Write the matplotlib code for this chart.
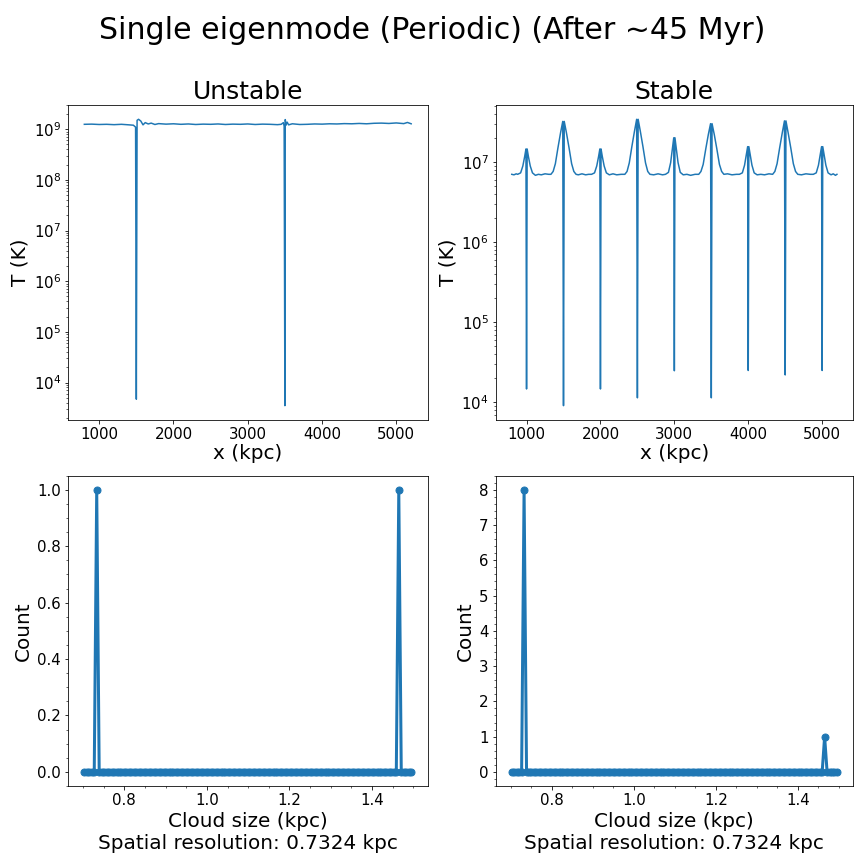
import matplotlib
matplotlib.use('Agg')
import matplotlib.pyplot as plt
import numpy as np

# Temperature profiles (x in kpc, T in K)
x_unstable = [800, 900, 1000, 1100, 1200, 1300, 1400, 1460, 1490, 1500,
              1510, 1530, 1560, 1590, 1620, 1660, 1700, 1750, 1800, 1900,
              2000, 2100, 2200, 2300, 2400, 2500, 2600, 2700, 2800, 2900,
              3000, 3100, 3200, 3300, 3400, 3450, 3480, 3490, 3500, 3505,
              3515, 3530, 3550, 3600, 3700, 3800, 3900, 4000, 4100, 4200,
              4300, 4400, 4500, 4600, 4700, 4800, 4900, 5000, 5100, 5150, 5200]
T_unstable = [1.25e9, 1.26e9, 1.24e9, 1.25e9, 1.23e9, 1.25e9, 1.22e9, 1.20e9, 1.10e9, 4.7e3,
              1.50e9, 1.57e9, 1.45e9, 1.22e9, 1.35e9, 1.27e9, 1.32e9, 1.24e9, 1.29e9, 1.26e9,
              1.28e9, 1.25e9, 1.27e9, 1.24e9, 1.26e9, 1.25e9, 1.27e9, 1.24e9, 1.26e9, 1.25e9,
              1.27e9, 1.24e9, 1.26e9, 1.25e9, 1.23e9, 1.25e9, 1.35e9, 1.15e9, 3.5e3, 1.55e9,
              1.20e9, 1.38e9, 1.22e9, 1.28e9, 1.24e9, 1.25e9, 1.27e9, 1.26e9, 1.28e9, 1.27e9,
              1.29e9, 1.28e9, 1.30e9, 1.28e9, 1.31e9, 1.32e9, 1.30e9, 1.33e9, 1.29e9, 1.36e9, 1.28e9]

x_stable = [800, 830, 860,
            880, 920, 950, 975, 992, 1000, 1008, 1025, 1050, 1080, 1120,
            1160, 1200, 1250, 1300,
            1330, 1360, 1390, 1425, 1460, 1490, 1500, 1510, 1540, 1575, 1610, 1640, 1670,
            1700, 1750, 1800, 1840,
            1880, 1920, 1950, 1975, 1992, 2000, 2008, 2025, 2050, 2080, 2120,
            2170, 2220, 2280,
            2330, 2360, 2390, 2425, 2460, 2490, 2500, 2510, 2540, 2575, 2610, 2640, 2670,
            2720, 2780, 2840,
            2880, 2920, 2950, 2975, 2992, 3000, 3008, 3025, 3050, 3080, 3120,
            3170, 3220, 3280,
            3330, 3360, 3390, 3425, 3460, 3490, 3500, 3510, 3540, 3575, 3610, 3640, 3670,
            3720, 3780, 3840,
            3880, 3920, 3950, 3975, 3992, 4000, 4008, 4025, 4050, 4080, 4120,
            4170, 4220, 4280,
            4330, 4360, 4390, 4425, 4460, 4490, 4500, 4510, 4540, 4575, 4610, 4640, 4670,
            4720, 4780, 4840,
            4880, 4920, 4950, 4975, 4992, 5000, 5008, 5025, 5050, 5080, 5120,
            5150, 5180, 5200]
T_stable = [7.0e6, 6.9e6, 7.1e6,
            7.0e6, 7.3e6, 8.9e6, 1.17e7, 1.45e7, 1.47e4, 1.45e7, 1.17e7, 8.9e6, 7.3e6, 6.8e6,
            7.0e6, 6.9e6, 7.1e6, 7.0e6,
            7.0e6, 7.6e6, 9.5e6, 1.5e7, 2.3e7, 3.2e7, 9.1e3, 3.2e7, 2.3e7, 1.5e7, 9.5e6, 7.6e6, 7.0e6,
            6.9e6, 7.1e6, 6.9e6, 7.0e6,
            7.0e6, 7.3e6, 8.9e6, 1.17e7, 1.45e7, 1.47e4, 1.45e7, 1.17e7, 8.9e6, 7.3e6, 6.9e6,
            7.1e6, 6.9e6, 7.0e6,
            7.0e6, 7.6e6, 9.7e6, 1.55e7, 2.4e7, 3.4e7, 1.14e4, 3.4e7, 2.4e7, 1.55e7, 9.7e6, 7.6e6, 7.0e6,
            6.9e6, 7.1e6, 6.9e6,
            7.0e6, 7.4e6, 9.8e6, 1.5e7, 2.0e7, 2.48e4, 2.0e7, 1.5e7, 9.8e6, 7.4e6, 6.9e6,
            7.0e6, 6.8e6, 7.0e6,
            7.0e6, 7.6e6, 9.3e6, 1.45e7, 2.2e7, 3.0e7, 1.14e4, 3.0e7, 2.2e7, 1.45e7, 9.3e6, 7.6e6, 7.0e6,
            7.1e6, 6.9e6, 7.0e6,
            7.0e6, 7.3e6, 9.1e6, 1.25e7, 1.55e7, 2.5e4, 1.55e7, 1.25e7, 9.1e6, 7.3e6, 6.9e6,
            7.0e6, 6.9e6, 7.1e6,
            7.0e6, 7.6e6, 9.5e6, 1.5e7, 2.3e7, 3.25e7, 2.2e4, 3.25e7, 2.3e7, 1.5e7, 9.5e6, 7.6e6, 7.0e6,
            6.9e6, 7.1e6, 7.0e6,
            7.0e6, 7.3e6, 9.1e6, 1.25e7, 1.55e7, 2.5e4, 1.55e7, 1.25e7, 9.1e6, 7.3e6, 6.9e6,
            7.1e6, 6.8e6, 7.0e6]

# Cloud sizes found (kpc)
clouds_unstable = [0.7324, 1.4648]
clouds_stable = [0.7324] * 8 + [1.4648]
resolution = 0.7324
bin_edges = np.arange(0.7, 1.5, 0.006)

fig = plt.figure(figsize=(12, 12), dpi=72)
fig.suptitle('Single eigenmode (Periodic) (After ~45 Myr)', fontsize=30, y=0.982)

ax1 = fig.add_axes([0.0787, 0.5139, 0.4161, 0.3646])
ax2 = fig.add_axes([0.5735, 0.5139, 0.414, 0.3646])
ax3 = fig.add_axes([0.0787, 0.0903, 0.4161, 0.3591])
ax4 = fig.add_axes([0.5735, 0.0903, 0.414, 0.3591])

for ax, x, T, title in [(ax1, x_unstable, T_unstable, 'Unstable'),
                        (ax2, x_stable, T_stable, 'Stable')]:
    ax.plot(x, T, '-')
    ax.set_yscale('log')
    ax.set_title(title, fontsize=25)
    ax.set_xlabel('x (kpc)', fontsize=20, labelpad=2)
    ax.set_ylabel('T (K)', fontsize=20)
    ax.tick_params(labelsize=15)

for ax, clouds in [(ax3, clouds_unstable), (ax4, clouds_stable)]:
    counts, edges = np.histogram(clouds, bins=bin_edges)
    centers = 0.5 * (edges[1:] + edges[:-1])
    ax.plot(centers, counts, 'o-', lw=3, ms=7)
    ax.minorticks_on()
    ax.set_xlabel('Cloud size (kpc)\nSpatial resolution: %.4f kpc' % resolution, fontsize=20)
    ax.set_ylabel('Count', fontsize=20)
    ax.tick_params(labelsize=15)

plt.savefig('out.png', dpi=72)
plt.close(fig)
